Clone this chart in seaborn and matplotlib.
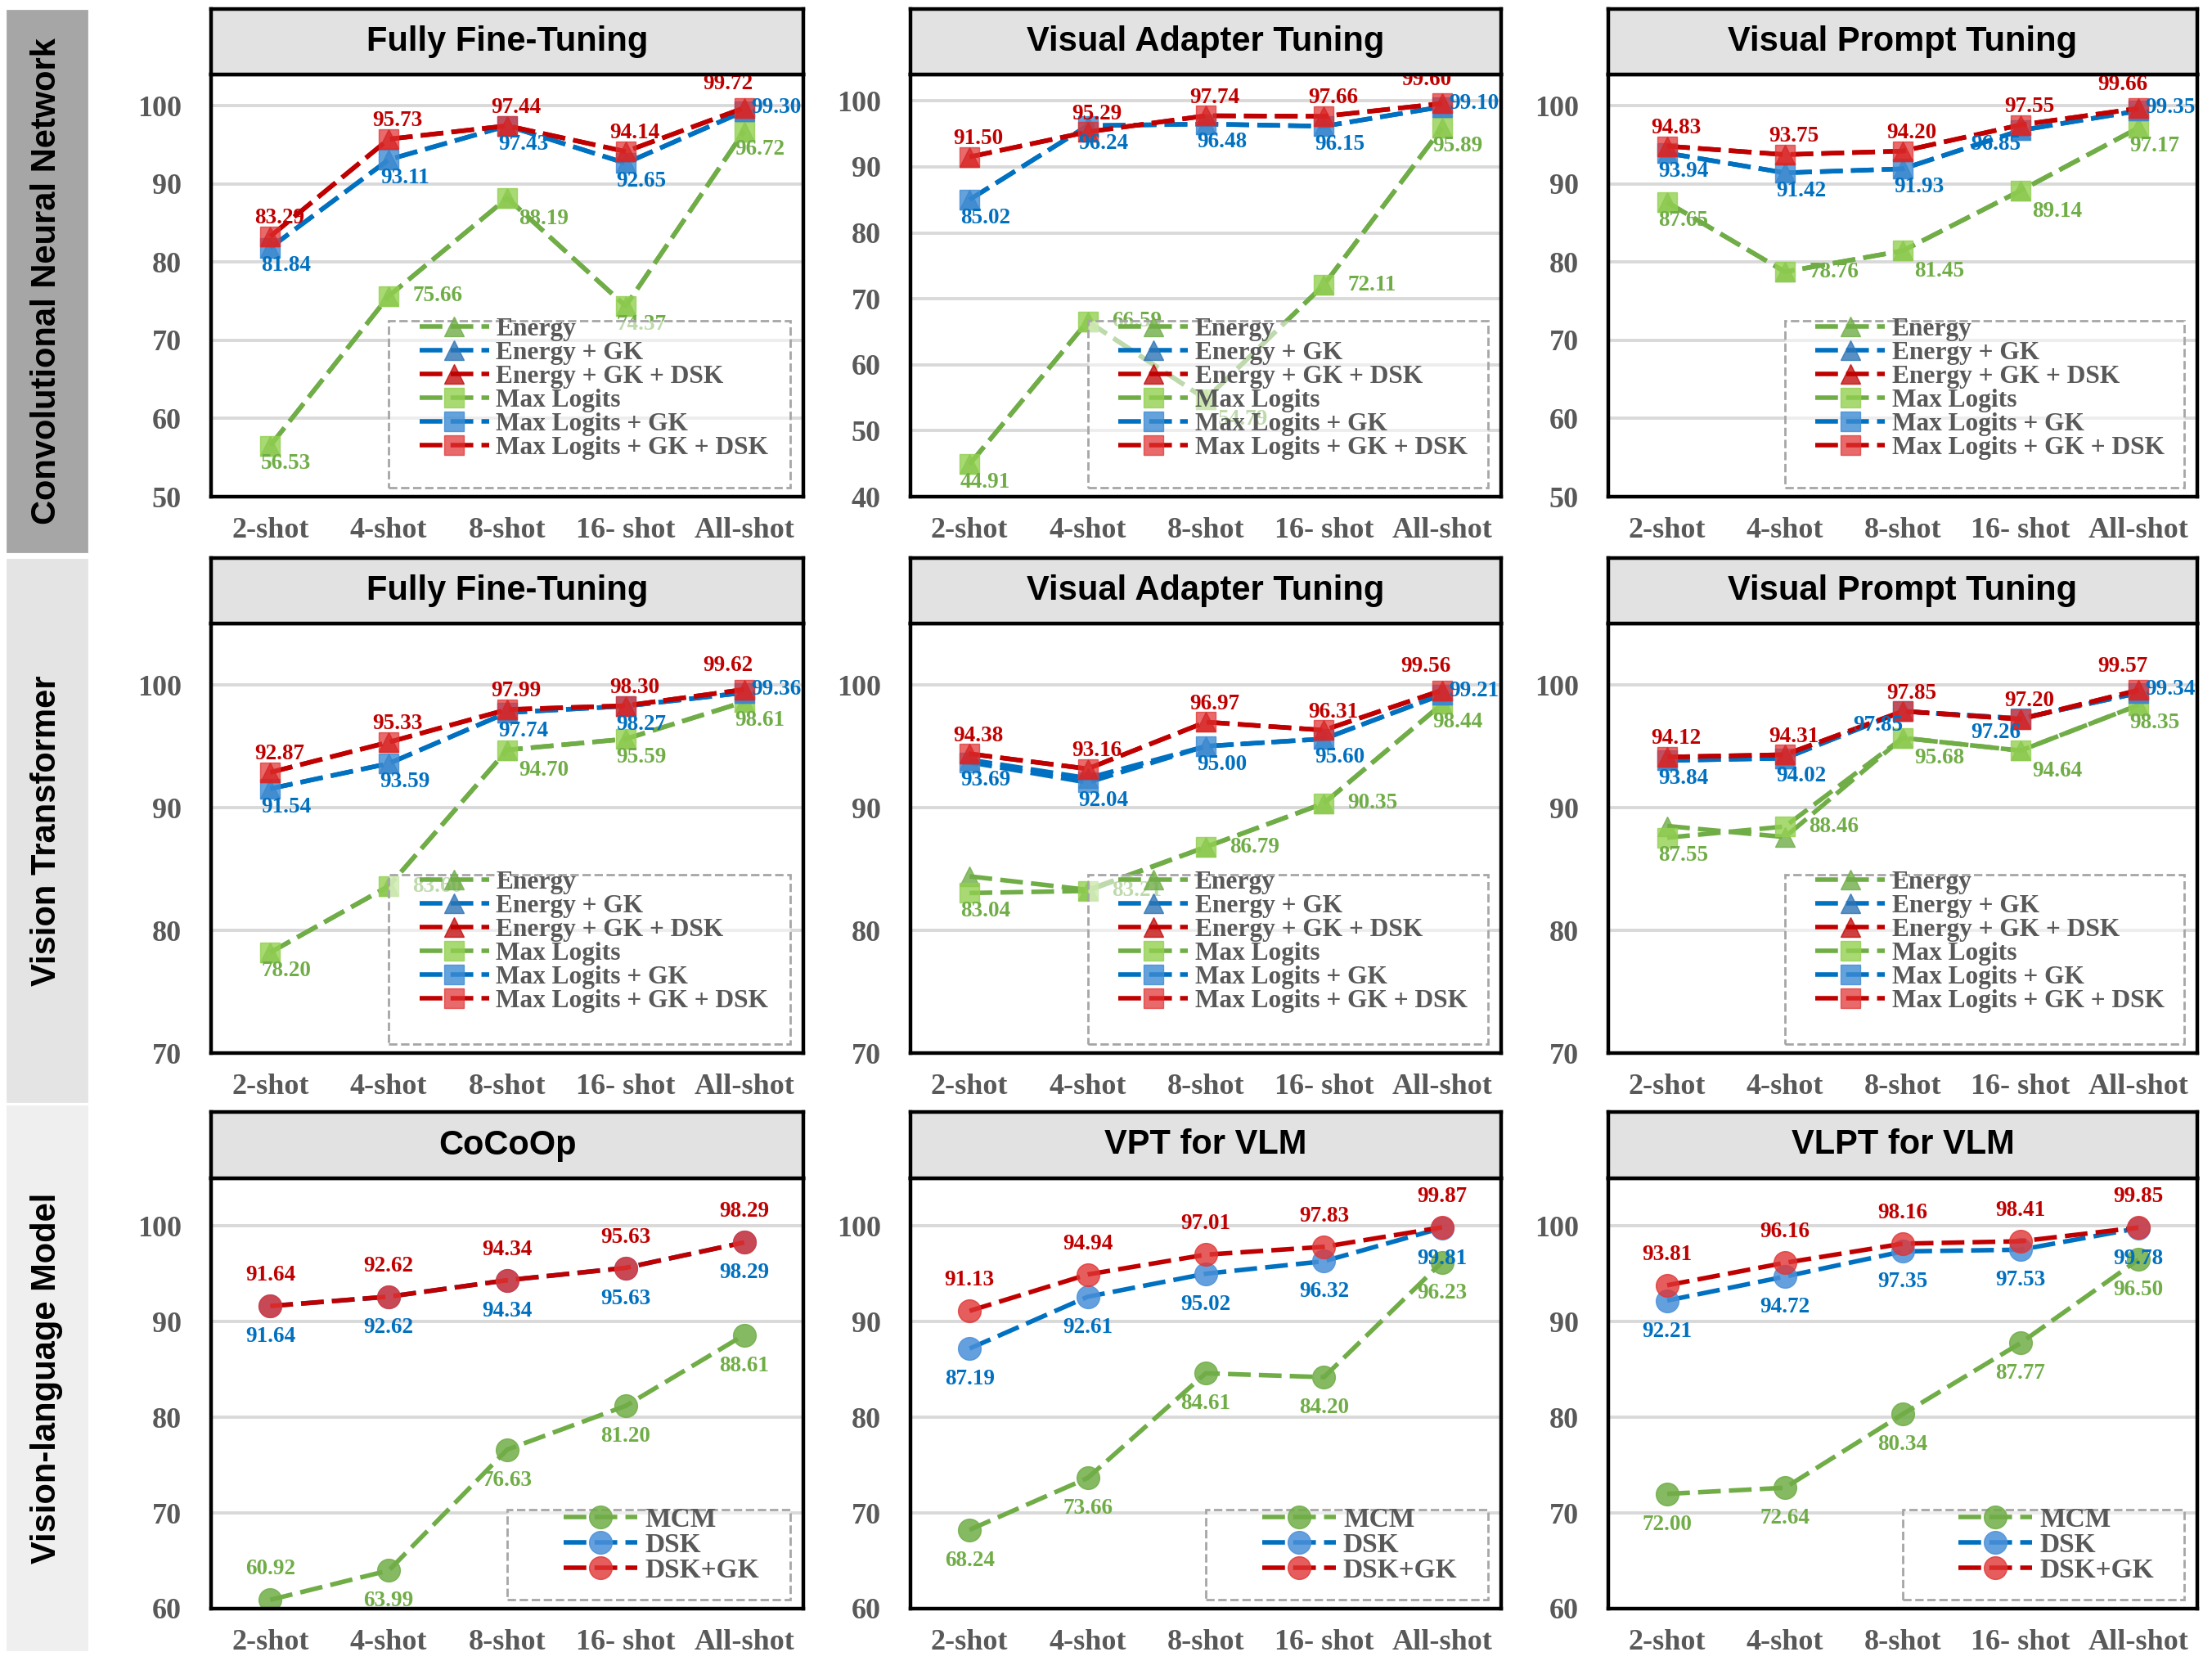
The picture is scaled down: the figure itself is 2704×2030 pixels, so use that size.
import numpy as np
import matplotlib
matplotlib.use('Agg')
import matplotlib.pyplot as plt
import seaborn as sns
from matplotlib.patches import Rectangle
from matplotlib.colors import to_rgba

# ---------------- data ----------------
shots = ['2-shot', '4-shot', '8-shot', '16- shot', 'All-shot']
row_names = ['Convolutional Neural Network', 'Vision Transformer', 'Vision-language Model']
panel_titles = ['Fully Fine-Tuning', 'Visual Adapter Tuning', 'Visual Prompt Tuning',
                'Fully Fine-Tuning', 'Visual Adapter Tuning', 'Visual Prompt Tuning',
                'CoCoOp', 'VPT for VLM', 'VLPT for VLM']
ood_methods = ['Energy', 'Energy + GK', 'Energy + GK + DSK',
               'Max Logits', 'Max Logits + GK', 'Max Logits + GK + DSK']
vlm_methods = ['MCM', 'DSK', 'DSK+GK']

# CNN - fully fine-tuning
cnn_fft_energy = [56.53, 75.66, 88.19, 74.37, 96.72]
cnn_fft_energy_gk = [81.84, 93.11, 97.43, 92.65, 99.30]
cnn_fft_energy_gk_dsk = [83.29, 95.73, 97.44, 94.14, 99.72]
cnn_fft_maxlogits = [56.53, 75.66, 88.19, 74.37, 96.72]
cnn_fft_maxlogits_gk = [81.84, 93.11, 97.43, 92.65, 99.30]
cnn_fft_maxlogits_gk_dsk = [83.29, 95.73, 97.44, 94.14, 99.72]

# CNN - visual adapter tuning
cnn_vat_energy = [44.91, 66.59, 54.79, 72.11, 95.89]
cnn_vat_energy_gk = [85.02, 96.24, 96.48, 96.15, 99.10]
cnn_vat_energy_gk_dsk = [91.50, 95.29, 97.74, 97.66, 99.60]
cnn_vat_maxlogits = [44.91, 66.59, 54.79, 72.11, 95.89]
cnn_vat_maxlogits_gk = [85.02, 96.24, 96.48, 96.15, 99.10]
cnn_vat_maxlogits_gk_dsk = [91.50, 95.29, 97.74, 97.66, 99.60]

# CNN - visual prompt tuning
cnn_vpt_energy = [87.65, 78.76, 81.45, 89.14, 97.17]
cnn_vpt_energy_gk = [93.94, 91.42, 91.93, 96.85, 99.35]
cnn_vpt_energy_gk_dsk = [94.83, 93.75, 94.20, 97.55, 99.66]
cnn_vpt_maxlogits = [87.65, 78.76, 81.45, 89.14, 97.17]
cnn_vpt_maxlogits_gk = [93.94, 91.42, 91.93, 96.85, 99.35]
cnn_vpt_maxlogits_gk_dsk = [94.83, 93.75, 94.20, 97.55, 99.66]

# ViT - fully fine-tuning
vit_fft_energy = [78.20, 83.60, 94.70, 95.59, 98.61]
vit_fft_energy_gk = [91.54, 93.59, 97.74, 98.27, 99.36]
vit_fft_energy_gk_dsk = [92.87, 95.33, 97.99, 98.30, 99.62]
vit_fft_maxlogits = [78.20, 83.60, 94.70, 95.59, 98.61]
vit_fft_maxlogits_gk = [91.54, 93.59, 97.74, 98.27, 99.36]
vit_fft_maxlogits_gk_dsk = [92.87, 95.33, 97.99, 98.30, 99.62]

# ViT - visual adapter tuning
vit_vat_energy = [84.40, 83.30, 86.79, 90.35, 98.44]
vit_vat_energy_gk = [93.90, 92.40, 95.00, 95.60, 99.21]
vit_vat_energy_gk_dsk = [94.38, 93.16, 96.97, 96.31, 99.56]
vit_vat_maxlogits = [83.04, 83.21, 86.79, 90.35, 98.44]
vit_vat_maxlogits_gk = [93.69, 92.04, 95.00, 95.60, 99.21]
vit_vat_maxlogits_gk_dsk = [94.38, 93.16, 96.97, 96.31, 99.56]

# ViT - visual prompt tuning
vit_vpt_energy = [88.50, 87.60, 95.68, 94.64, 98.35]
vit_vpt_energy_gk = [93.84, 94.02, 97.85, 97.26, 99.34]
vit_vpt_energy_gk_dsk = [94.12, 94.31, 97.85, 97.20, 99.57]
vit_vpt_maxlogits = [87.55, 88.46, 95.68, 94.64, 98.35]
vit_vpt_maxlogits_gk = [93.84, 94.02, 97.85, 97.26, 99.34]
vit_vpt_maxlogits_gk_dsk = [94.12, 94.31, 97.85, 97.20, 99.57]

# VLM
cocoop_mcm = [60.92, 63.99, 76.63, 81.20, 88.61]
cocoop_dsk = [91.64, 92.62, 94.34, 95.63, 98.29]
cocoop_dsk_gk = [91.64, 92.62, 94.34, 95.63, 98.29]
vpt_vlm_mcm = [68.24, 73.66, 84.61, 84.20, 96.23]
vpt_vlm_dsk = [87.19, 92.61, 95.02, 96.32, 99.81]
vpt_vlm_dsk_gk = [91.13, 94.94, 97.01, 97.83, 99.87]
vlpt_vlm_mcm = [72.00, 72.64, 80.34, 87.77, 96.50]
vlpt_vlm_dsk = [92.21, 94.72, 97.35, 97.53, 99.78]
vlpt_vlm_dsk_gk = [93.81, 96.16, 98.16, 98.41, 99.85]

# ---------------- layout / style ----------------
ood_series = [
    [cnn_fft_energy, cnn_fft_energy_gk, cnn_fft_energy_gk_dsk,
     cnn_fft_maxlogits, cnn_fft_maxlogits_gk, cnn_fft_maxlogits_gk_dsk],
    [cnn_vat_energy, cnn_vat_energy_gk, cnn_vat_energy_gk_dsk,
     cnn_vat_maxlogits, cnn_vat_maxlogits_gk, cnn_vat_maxlogits_gk_dsk],
    [cnn_vpt_energy, cnn_vpt_energy_gk, cnn_vpt_energy_gk_dsk,
     cnn_vpt_maxlogits, cnn_vpt_maxlogits_gk, cnn_vpt_maxlogits_gk_dsk],
    [vit_fft_energy, vit_fft_energy_gk, vit_fft_energy_gk_dsk,
     vit_fft_maxlogits, vit_fft_maxlogits_gk, vit_fft_maxlogits_gk_dsk],
    [vit_vat_energy, vit_vat_energy_gk, vit_vat_energy_gk_dsk,
     vit_vat_maxlogits, vit_vat_maxlogits_gk, vit_vat_maxlogits_gk_dsk],
    [vit_vpt_energy, vit_vpt_energy_gk, vit_vpt_energy_gk_dsk,
     vit_vpt_maxlogits, vit_vpt_maxlogits_gk, vit_vpt_maxlogits_gk_dsk],
]
vlm_series = [
    [cocoop_mcm, cocoop_dsk, cocoop_dsk_gk],
    [vpt_vlm_mcm, vpt_vlm_dsk, vpt_vlm_dsk_gk],
    [vlpt_vlm_mcm, vlpt_vlm_dsk, vlpt_vlm_dsk_gk],
]

ylims = [(50, 104), (40, 104), (50, 104), (70, 105), (70, 105), (70, 105),
         (60, 105), (60, 105), (60, 105)]
ysteps = 10

# label placement codes (green, blue, red) per panel
label_pos = [
    (['b', 'r', 'br', 'b', 'b'], ['b', 'b', 'b', 'b', 'ru'], ['a'] * 4 + ['al']),
    (['b', 'r', 'br', 'r', 'b'], ['b', 'b', 'b', 'b', 'ru'], ['a'] * 4 + ['al']),
    (['b', 'r', 'br', 'br', 'b'], ['b', 'b', 'b', 'bl', 'ru'], ['a'] * 4 + ['al']),
    (['b', 'r', 'br', 'b', 'b'], ['b', 'b', 'b', 'b', 'ru'], ['a'] * 4 + ['al']),
    (['b', 'r', 'r', 'r', 'b'], ['b', 'b', 'b', 'b', 'ru'], ['a'] * 4 + ['al']),
    (['b', 'r', 'br', 'br', 'b'], ['b', 'b', 'bl', 'bl', 'ru'], ['a'] * 4 + ['al']),
    (['ac', 'bc', 'bc', 'bc', 'bc'], ['bc'] * 5, ['ac'] * 5),
    (['bc'] * 5, ['bc'] * 5, ['ac'] * 5),
    (['bc'] * 5, ['bc'] * 5, ['ac'] * 5),
]

GREEN, BLUE, RED = '#70AD47', '#0070C0', '#C00000'
ood_style = [  # line colour, marker, marker face, alpha
    (GREEN, '^', '#70AD47', 0.8), (BLUE, '^', '#2E75B6', 0.8), (RED, '^', '#C00000', 0.75),
    (GREEN, 's', '#92D050', 0.8), (BLUE, 's', '#3D8BD4', 0.8), (RED, 's', '#E03030', 0.72),
]
vlm_style = [(GREEN, 'o', '#70AD47', 0.85), (BLUE, 'o', '#4A90D9', 0.85),
             (RED, 'o', '#E03434', 0.8)]
label_colors = [GREEN, BLUE, RED]

W, H = 2704, 2030
col_x = [(258, 982), (1113, 1835), (1966, 2686)]
row_y = [(11, 91, 607), (682, 762, 1287), (1359, 1440, 1966)]
bands = [(13, 674, '#A6A6A6'), (684, 1346, '#E4E4E4'), (1352, 2016, '#EFEFEF')]

sns.set_style('white')
plt.rcParams['font.family'] = ['Liberation Serif', 'DejaVu Serif']
plt.rcParams['font.weight'] = 'bold'


def px_rect(x0, x1, y0, y1):
    return [x0 / W, 1 - y1 / H, (x1 - x0) / W, (y1 - y0) / H]


def label_offset(code, gap):
    if code == 'a':
        return 4, gap, 'center', 'bottom'
    if code == 'al':
        return -7, gap + 2.5, 'center', 'bottom'
    if code == 'ac':
        return 0, gap, 'center', 'bottom'
    if code == 'b':
        return 7, -gap, 'center', 'top'
    if code == 'bc':
        return 0, -gap, 'center', 'top'
    if code == 'r':
        return gap + 7, 0, 'left', 'center'
    if code == 'br':
        return gap * 1.5, -gap * 1.3, 'left', 'top'
    if code == 'bl':
        return 0, -gap * 0.5, 'right', 'top'
    return 3, -3, 'left', 'bottom'  # 'ru'


fig = plt.figure(figsize=(W / 200, H / 200), dpi=200)
fig.patch.set_facecolor('white')

for (y0, y1, c), name in zip(bands, row_names):
    fig.patches.append(Rectangle((9 / W, 1 - y1 / H), 97 / W, (y1 - y0) / H,
                                 transform=fig.transFigure, color=c, zorder=0))
    fig.text(57 / W, 1 - (y0 + y1) / 2 / H, name, rotation=90, ha='center', va='center',
             fontsize=15, family='Liberation Sans', weight='bold', color='black')

xs = np.arange(len(shots))

for i in range(9):
    r, c = divmod(i, 3)
    x0, x1 = col_x[c]
    ty, py, by = row_y[r]
    ax = fig.add_axes(px_rect(x0, x1, py, by))

    if r < 2:
        series, names, styles = ood_series[i], ood_methods, ood_style
        ms, gap, leg_fs = 8.5, 3.5, 11.3
        lab_idx = [3, 4, 5]
    else:
        series, names, styles = vlm_series[i - 6], vlm_methods, vlm_style
        ms, gap, leg_fs = 10, 9, 12
        lab_idx = [0, 1, 2]

    for k, (vals, name, (lc, mk, mf, al)) in enumerate(zip(series, names, styles)):
        face = to_rgba(mf, al)
        sns.lineplot(x=xs, y=vals, ax=ax, color=lc, linewidth=2.0,
                     linestyle=(0, (5, 1.8)), marker=mk, markersize=ms,
                     markerfacecolor=face, markeredgecolor=face, markeredgewidth=0.5,
                     label=name, legend=False, zorder=2 + 0.1 * (k % 3))

    for j, k in enumerate(lab_idx):
        for xi, v, code in zip(xs, series[k], label_pos[i][j]):
            dx, dy, ha, va = label_offset(code, gap)
            ax.annotate(f'{v:.2f}', (xi, v), xytext=(dx, dy), textcoords='offset points',
                        ha=ha, va=va, fontsize=9.8, fontweight='bold',
                        color=label_colors[j], zorder=4)

    lo, hi = ylims[i]
    ax.set_ylim(lo, hi)
    ax.set_xlim(-0.5, len(shots) - 0.5)
    ax.set_yticks(np.arange(lo, 101, ysteps))
    ax.set_xticks(xs)
    ax.set_xticklabels(shots)
    ax.set_xlabel('')
    ax.set_ylabel('')
    ax.tick_params(axis='x', length=0, pad=9, labelsize=13, labelcolor='#595959')
    ax.tick_params(axis='y', length=0, pad=13, labelsize=13, labelcolor='#595959')
    ax.yaxis.grid(True, color='#D9D9D9', linewidth=1.4)
    ax.xaxis.grid(False)
    ax.set_axisbelow(True)
    for sp in ax.spines.values():
        sp.set_visible(True)
        sp.set_color('black')
        sp.set_linewidth(1.6)

    # legend with dashed, half-transparent box
    if r < 2:
        box = (0.30, 0.021, 0.678, 0.395)
        anchor = (0.352, 0.425)
    else:
        box = (0.50, 0.02, 0.478, 0.21)
        anchor = (0.595, 0.236)
    ax.add_patch(Rectangle(box[:2], box[2], box[3], transform=ax.transAxes,
                           facecolor=(1, 1, 1, 0.55), edgecolor='#A6A6A6',
                           linestyle='--', linewidth=1.0, zorder=5))
    handles, labels = ax.get_legend_handles_labels()
    leg = ax.legend(handles, labels, loc='upper left', bbox_to_anchor=anchor,
                    frameon=False, borderaxespad=0, borderpad=0, labelspacing=0.0,
                    handlelength=2.7, handletextpad=0.28, fontsize=leg_fs)
    leg.set_zorder(6)
    for t in leg.get_texts():
        t.set_color('#595959')
        t.set_fontweight('bold')

    # title box above plot
    tax = fig.add_axes(px_rect(x0, x1, ty, py))
    tax.set_facecolor('#E2E2E2')
    tax.set_xticks([])
    tax.set_yticks([])
    for sp in tax.spines.values():
        sp.set_visible(True)
        sp.set_color('black')
        sp.set_linewidth(1.6)
    tax.text(0.5, 0.5, panel_titles[i], ha='center', va='center', fontsize=15,
             family='Liberation Sans', weight='bold', color='black',
             transform=tax.transAxes)

fig.savefig('out.png', dpi=200, facecolor='white')
